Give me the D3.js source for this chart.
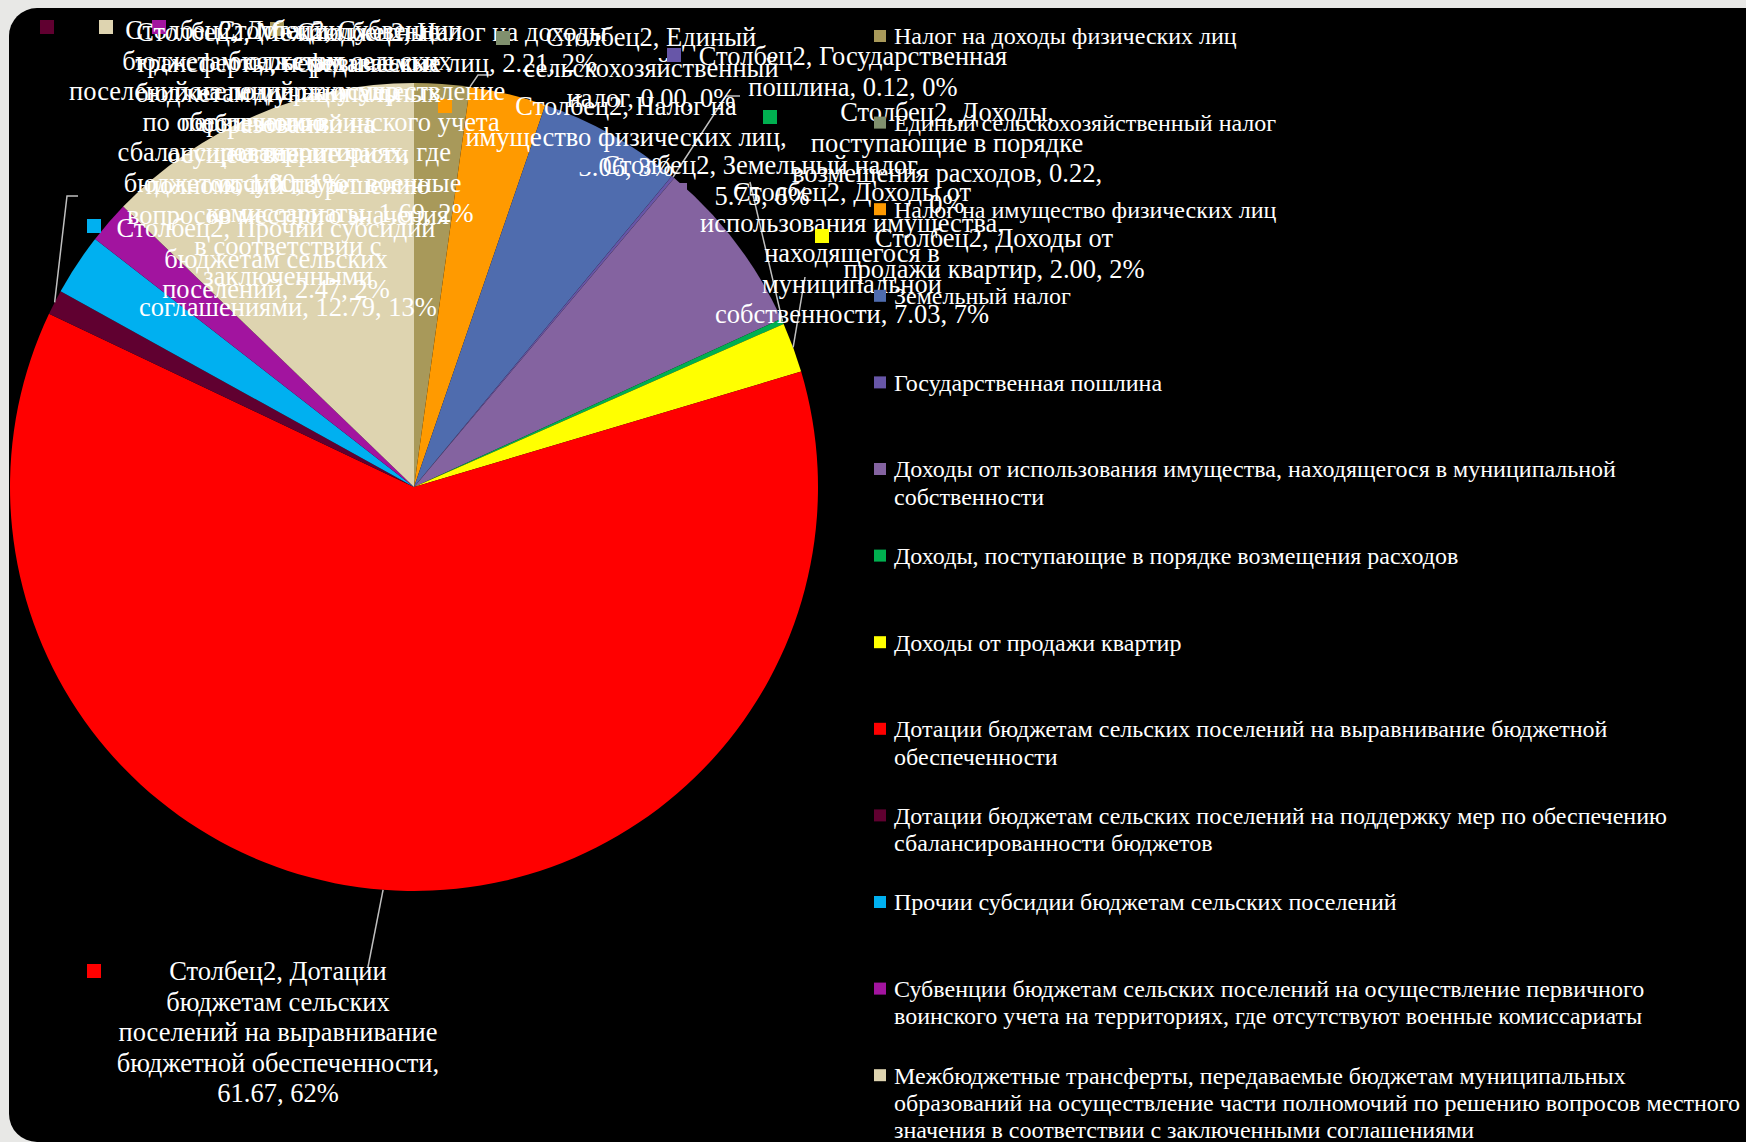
<!DOCTYPE html>
<html>
<head>
<meta charset="utf-8">
<script src="https://cdn.jsdelivr.net/npm/d3@7"></script>
<style>
  body { margin: 0; background: #e8e8e6; }
  svg { display: block; }
  text { font-family: "Liberation Serif", "Times New Roman", serif; fill: #fff; }
</style>
</head>
<body>
<svg id="piechart" width="1746" height="1142"></svg>
<script>
 // data
 const seriesName = "Столбец2";

 const categories = [
     "Налог на доходы физических лиц",
     "Единый сельскохозяйственный налог",
     "Налог на имущество физических лиц",
     "Земельный налог",
     "Государственная пошлина",
     "Доходы от использования имущества, находящегося в муниципальной\nсобственности",
     "Доходы, поступающие в порядке возмещения расходов",
     "Доходы от продажи квартир",
     "Дотации бюджетам сельских поселений на выравнивание бюджетной\nобеспеченности",
     "Дотации бюджетам сельских поселений на поддержку мер по обеспечению\nсбалансированности бюджетов",
     "Прочии субсидии бюджетам сельских поселений",
     "Субвенции бюджетам сельских поселений на осуществление первичного\nвоинского учета на территориях, где отсутствуют военные комиссариаты",
     "Межбюджетные трансферты, передаваемые бюджетам муниципальных\nобразований на осуществление части полномочий по решению вопросов местного\nзначения в соответствии с заключенными соглашениями"
 ];

 const values = [2.21, 0.00, 3.06, 5.75, 0.12, 7.03, 0.22, 2.00, 61.67, 1.00, 2.47, 1.69, 12.79];

 const colors = ["#a8995a", "#80906e", "#ff9a00", "#4f6cae", "#6756a8", "#8463a0", "#00b050",
                 "#ffff00", "#ff0000", "#600030", "#00b0f0", "#a2149f", "#ded4b0"];

 // data label text as wrapped in the original (value and percent are appended below)
 const labelLines = [
     ["Столбец2, Налог на доходы", "физических лиц, "],
     ["Столбец2, Единый", "сельскохозяйственный", "налог, "],
     ["Столбец2, Налог на", "имущество физических лиц,", ""],
     ["Столбец2, Земельный налог,", ""],
     ["Столбец2, Государственная", "пошлина, "],
     ["Столбец2, Доходы от", "использования имущества,", "находящегося в", "муниципальной", "собственности, "],
     ["Столбец2, Доходы,", "поступающие в порядке", "возмещения расходов, 0.22,", ""],
     ["Столбец2, Доходы от", "продажи квартир, "],
     ["Столбец2, Дотации", "бюджетам сельских", "поселений на выравнивание", "бюджетной обеспеченности,", ""],
     ["Столбец2, Дотации", "бюджетам сельских", "поселений на поддержку мер", "по обеспечению", "сбалансированности", "бюджетов, "],
     ["Столбец2, Прочии субсидии", "бюджетам сельских", "поселений, "],
     ["Столбец2, Субвенции", "бюджетам сельских", "поселений на осуществление", "первичного воинского учета", "на территориях, где", "отсутствуют военные", "комиссариаты, "],
     ["Столбец2, Межбюджетные", "трансферты, передаваемые", "бюджетам муниципальных", "образований на", "осуществление части", "полномочий по решению", "вопросов местного значения", "в соответствии с", "заключенными", "соглашениями, "]
 ];

 // where Excel had dragged each label (cx, first line y, key corner, leader bend points)
 const labelLayout = [
     {cx: 452, y: 32,  kx: 270, ky: 22,  leader: null},
     {cx: 651, y: 37,  kx: 496, ky: 31,  leader: [[478, 75], [491, 75]]},
     {cx: 626, y: 106, kx: 438, ky: 99,  leader: null},
     {cx: 762, y: 165, kx: 578, ky: 158, leader: null},
     {cx: 853, y: 56,  kx: 667, ky: 48,  leader: [[726, 96], [740, 96]]},
     {cx: 852, y: 192, kx: 673, ky: 183, leader: null},
     {cx: 947, y: 112, kx: 763, ky: 110, leader: [[750, 182]]},
     {cx: 994, y: 238, kx: 815, ky: 229, leader: [[805, 277]]},
     {cx: 278, y: 971, kx: 87,  ky: 964, leader: [[368, 967]]},
     {cx: 234, y: 30,  kx: 40,  ky: 20,  leader: [[67, 196], [78, 196]]},
     {cx: 276, y: 228, kx: 87,  ky: 219, leader: null},
     {cx: 340, y: 30,  kx: 152, ky: 20,  leader: null},
     {cx: 288, y: 32,  kx: 99,  ky: 20,  leader: null}
 ];

 let chart = d3.select("svg#piechart");
 let width = +chart.attr("width");
 let height = +chart.attr("height");

 const center = {x: 414, y: 487};
 const radius = 404;
 const labelSize = 26.5, labelStep = 30.5, labelKey = 14;
 const legendX = 874, legendTop = 36, legendStep = 86.6, legendLine = 27.3, legendSize = 24, legendKey = 12;

 // black slide panel (runs off the right and bottom edges)
 chart.append("rect")
     .attr("x", 9).attr("y", 8)
     .attr("width", width + 40).attr("height", height - 8)
     .attr("rx", 28).attr("ry", 28)
     .attr("fill", "#000");

 const total = d3.sum(values);
 const pctFormat = d3.format(".0%");
 const numFormat = d3.format(".2f");

 const pie = d3.pie().sort(null).value(d => d);
 const arcs = pie(values);
 const arc = d3.arc().innerRadius(0).outerRadius(radius);
 const edge = d3.arc().innerRadius(radius).outerRadius(radius);

 let pieArea = chart.append("g").attr("id", "slices")
                    .attr("transform", `translate(${center.x},${center.y})`);

 pieArea.selectAll("path")
     .data(arcs)
     .join("path")
     .attr("d", arc)
     .attr("fill", (d, i) => colors[i]);

 // leader lines
 let leaders = chart.append("g").attr("id", "leaders");
 arcs.forEach((d, i) => {
     let lay = labelLayout[i];
     if (!lay.leader) return;
     let c = edge.centroid(d);
     let pts = [[center.x + c[0], center.y + c[1]], ...lay.leader];
     leaders.append("path")
         .attr("d", d3.line()(pts))
         .attr("fill", "none")
         .attr("stroke", "#bfbfbf")
         .attr("stroke-width", 1.5);
 });

 // data labels
 let labels = chart.append("g").attr("id", "labels");
 arcs.forEach((d, i) => {
     let lay = labelLayout[i];
     let lines = labelLines[i].slice();
     let tail = i == 6 ? pctFormat(values[i] / total)
                       : numFormat(values[i]) + ", " + pctFormat(values[i] / total);
     lines[lines.length - 1] += tail;
     let g = labels.append("g");
     g.append("rect")
         .attr("x", lay.kx).attr("y", lay.ky)
         .attr("width", labelKey).attr("height", labelKey)
         .attr("fill", colors[i]);
     g.selectAll("text")
         .data(lines)
         .join("text")
         .attr("x", lay.cx)
         .attr("y", (t, j) => lay.y + j * labelStep)
         .attr("dy", "0.35em")
         .attr("text-anchor", "middle")
         .style("font-size", labelSize + "px")
         .text(t => t);
 });

 // legend
 let legend = chart.append("g").attr("id", "legend");
 categories.forEach((name, i) => {
     let y = legendTop + i * legendStep;
     legend.append("rect")
         .attr("x", legendX).attr("y", y - legendKey / 2)
         .attr("width", legendKey).attr("height", legendKey)
         .attr("fill", colors[i]);
     legend.append("g")
         .selectAll("text")
         .data(name.split("\n"))
         .join("text")
         .attr("x", legendX + 20)
         .attr("y", (t, j) => y + j * legendLine)
         .attr("dy", "0.35em")
         .style("font-size", legendSize + "px")
         .text(t => t);
 });
</script>
</body>
</html>
